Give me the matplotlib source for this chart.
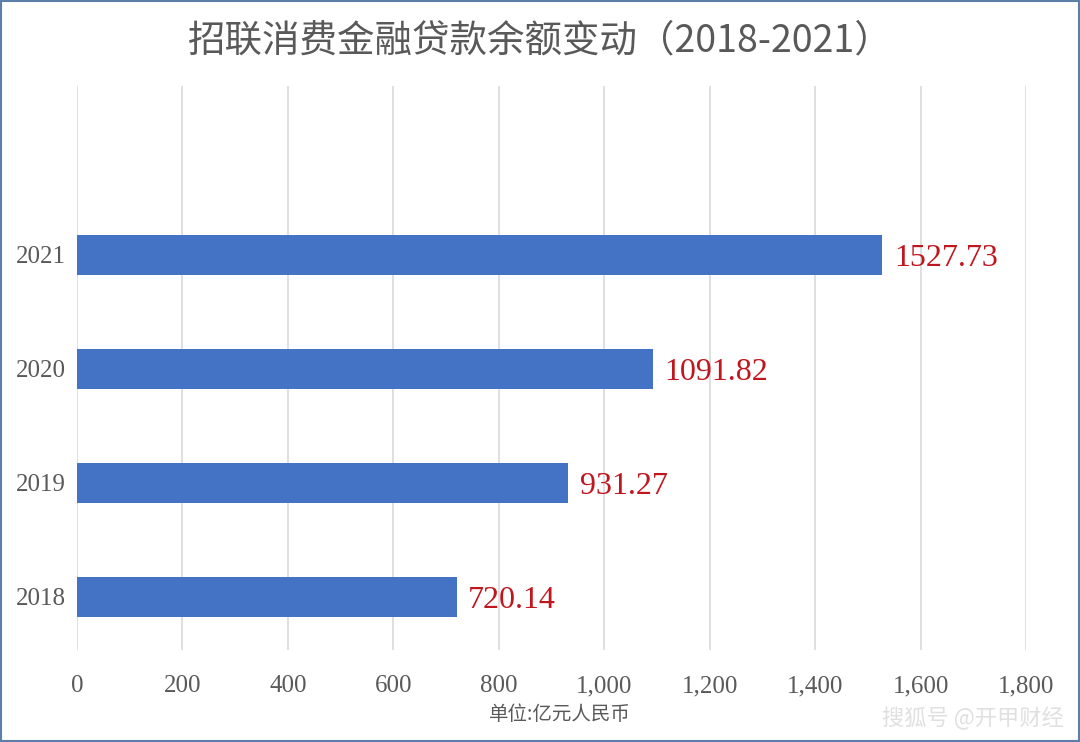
import matplotlib
matplotlib.use('Agg')
import matplotlib.pyplot as plt
from matplotlib.patches import Rectangle

years = ['2018', '2019', '2020', '2021']
balances = [720.14, 931.27, 1091.82, 1527.73]
xticks = [0, 200, 400, 600, 800, 1000, 1200, 1400, 1600, 1800]

title = '招联消费金融贷款余额变动（2018-2021）'
unit_label = '单位:亿元人民币'
watermark = '搜狐号 @开甲财经'

plt.rcParams['font.family'] = ['Liberation Serif', 'Noto Sans CJK SC', 'DejaVu Sans']

fig = plt.figure(figsize=(10.8, 7.42), dpi=100)
ax = fig.add_axes([0.0713, 0.124, 0.8787, 0.76])

pos = list(range(len(years)))
ax.barh(pos, balances, height=0.35, color='#4472C4', zorder=3)

for p, v in zip(pos, balances):
    ax.text(v + 22, p - 0.03, f'{v:.2f}', va='center', ha='left',
            fontsize=23, color='#C0161E', family=['Liberation Serif'])

ax.set_xlim(0, 1800)
ax.set_ylim(-0.465, 3 + 1.48)
ax.set_xticks(xticks)
ax.set_xticklabels([f'{t:,}' for t in xticks], fontsize=18, color='#595959')
ax.set_yticks(pos)
ax.set_yticklabels(years, fontsize=18, color='#595959', va='center_baseline')
ax.tick_params(axis='both', length=0)
ax.tick_params(axis='y', pad=8)
ax.tick_params(axis='x', pad=18)
ax.grid(axis='x', color='#D9D9D9', linewidth=1.2, zorder=0)
for s in ax.spines.values():
    s.set_visible(False)

fig.text(0.5, 0.945, title, ha='center', va='center', fontsize=27,
         color='#595959', family=['Noto Sans CJK SC', 'DejaVu Sans'])
fig.text(0.518, 0.037, unit_label, ha='center', va='center', fontsize=14,
         color='#595959', family=['Noto Sans CJK SC', 'DejaVu Sans'])
fig.text(0.985, 0.032, watermark, ha='right', va='center', fontsize=16,
         color='#E0E0E0', style='italic', family=['Noto Sans CJK SC', 'DejaVu Sans'])

fig.patches.append(Rectangle((0.001, 0.001), 0.998, 0.998, transform=fig.transFigure,
                             fill=False, edgecolor='#5B7FA8', linewidth=1.5))

fig.savefig('out.png', dpi=100)
